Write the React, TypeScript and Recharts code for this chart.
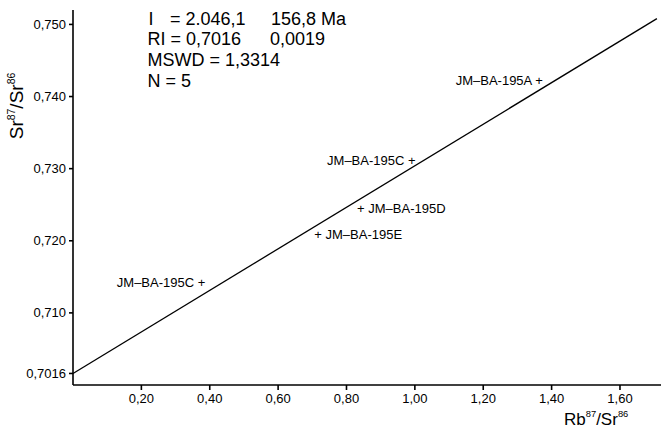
import React from "react";
import { ScatterChart, Scatter, XAxis, YAxis, ReferenceLine } from "recharts";

// Sample names
const sampleNames = ["JM–BA-195A", "JM–BA-195C", "JM–BA-195D", "JM–BA-195E", "JM–BA-195C"];
// Rb87/Sr86 values
const rbSr = [1.363, 0.991, 0.842, 0.717, 0.376];
// Sr87/Sr86 values
const srSr = [0.7422, 0.7311, 0.7245, 0.7209, 0.7142];
// Which side the label is written on
const labelSide = ["left", "left", "right", "right", "left"];

// Isochron line endpoints
const isoX = [0, 1.708];
const isoY = [0.7016, 0.7508];

const xTicks = [0.2, 0.4, 0.6, 0.8, 1.0, 1.2, 1.4, 1.6];
const xTickLabels = ["0,20", "0,40", "0,60", "0,80", "1,00", "1,20", "1,40", "1,60"];
const yTicks = [0.7016, 0.71, 0.72, 0.73, 0.74, 0.75];
const yTickLabels = ["0,7016", "0,710", "0,720", "0,730", "0,740", "0,750"];

const data = sampleNames.map((name, i) => ({ name, x: rbSr[i], y: srSr[i], side: labelSide[i] }));

const FONT = "'Liberation Sans', Arial, Helvetica, sans-serif";

const PlusLabel = (props: any) => {
  const { cx, cy, payload } = props;
  if (cx == null || cy == null) return null;
  const right = payload.side === "right";
  const text = right ? "+ " + payload.name : payload.name + " +";
  return (
    <text
      x={right ? cx - 3.8 : cx + 3.8}
      y={cy + 4.6}
      textAnchor={right ? "start" : "end"}
      fontSize={13}
      fontFamily={FONT}
      fill="#000"
    >
      {text}
    </text>
  );
};

export default function App() {
  const xFmt = (v: number) => {
    const i = xTicks.findIndex((t) => Math.abs(t - v) < 1e-6);
    return i >= 0 ? xTickLabels[i] : String(v);
  };
  const yFmt = (v: number) => {
    const i = yTicks.findIndex((t) => Math.abs(t - v) < 1e-6);
    return i >= 0 ? yTickLabels[i] : String(v);
  };
  const annot: React.CSSProperties = {
    position: "absolute",
    fontFamily: FONT,
    fontSize: 18,
    lineHeight: "18px",
    color: "#000",
    whiteSpace: "pre",
  };
  const sup: React.CSSProperties = { fontSize: "0.55em", position: "relative", top: "-0.8em" };
  return (
    <div style={{ position: "absolute", left: 0, top: 0, width: 661, height: 427, background: "#fff", overflow: "hidden" }}>
      <ScatterChart width={661} height={427} margin={{ top: 10, right: 0, bottom: 0, left: 0 }}>
        <XAxis
          type="number"
          dataKey="x"
          domain={[0, 1.72]}
          ticks={xTicks}
          tickFormatter={xFmt}
          height={42}
          allowDataOverflow
          stroke="#000"
          strokeWidth={1.6}
          tickSize={5}
          tickMargin={4}
          tick={{ fontSize: 13, fontFamily: FONT, fill: "#000" }}
        />
        <YAxis
          type="number"
          dataKey="y"
          domain={[0.7, 0.752]}
          ticks={yTicks}
          tickFormatter={yFmt}
          width={73}
          allowDataOverflow
          stroke="#000"
          strokeWidth={1.6}
          tickSize={4}
          tickMargin={3}
          tick={{ fontSize: 13, fontFamily: FONT, fill: "#000" }}
        />
        <ReferenceLine
          segment={[
            { x: isoX[0], y: isoY[0] },
            { x: isoX[1], y: isoY[1] },
          ]}
          stroke="#000"
          strokeWidth={1.3}
          ifOverflow="visible"
        />
        <Scatter data={data} shape={<PlusLabel />} isAnimationActive={false} />
      </ScatterChart>

      <div style={{ ...annot, left: 148.5, top: 9.8 }}>I</div>
      <div style={{ ...annot, left: 170, top: 9.8 }}>= 2.046,1</div>
      <div style={{ ...annot, left: 271, top: 9.8 }}>156,8 Ma</div>
      <div style={{ ...annot, left: 147.5, top: 30.3 }}>RI = 0,7016</div>
      <div style={{ ...annot, left: 270, top: 30.3 }}>0,0019</div>
      <div style={{ ...annot, left: 147.5, top: 50.8 }}>MSWD = 1,3314</div>
      <div style={{ ...annot, left: 147.5, top: 71.5 }}>N = 5</div>

      <div
        style={{
          position: "absolute",
          left: 17.5,
          top: 106,
          transform: "translate(-50%, -50%) rotate(-90deg)",
          fontFamily: FONT,
          fontSize: 19,
          lineHeight: "19px",
          whiteSpace: "nowrap",
          color: "#000",
        }}
      >
        Sr<span style={sup}>87</span>/Sr<span style={sup}>86</span>
      </div>
      <div
        style={{
          position: "absolute",
          left: 564,
          top: 410.5,
          fontFamily: FONT,
          fontSize: 17,
          lineHeight: "17px",
          whiteSpace: "nowrap",
          color: "#000",
        }}
      >
        Rb<span style={sup}>87</span>/Sr<span style={sup}>86</span>
      </div>
    </div>
  );
}
